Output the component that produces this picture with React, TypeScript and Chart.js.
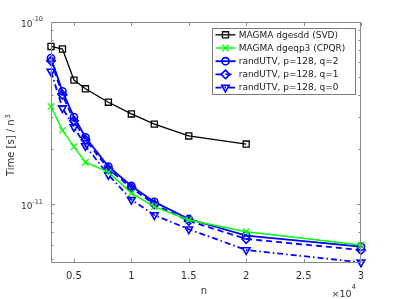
import React, { useEffect, useRef } from "react";
import { Chart, registerables } from "chart.js";
import { drawPoint } from "chart.js/helpers";

Chart.register(...registerables);

const nValues = [3000, 4000, 5000, 6000, 8000, 10000, 12000, 15000, 20000, 30000];
const svdTimes = [7.34e-11, 7.11e-11, 4.8e-11, 4.3e-11, 3.63e-11, 3.13e-11, 2.75e-11, 2.37e-11, 2.14e-11];
const cpqrTimes = [3.44e-11, 2.54e-11, 2.07e-11, 1.7e-11, 1.5e-11, 1.15e-11, 9.7e-12, 8.2e-12, 7.07e-12, 5.97e-12];
const utvQ2Times = [6.34e-11, 4.16e-11, 3.01e-11, 2.33e-11, 1.61e-11, 1.26e-11, 1.03e-11, 8.3e-12, 6.72e-12, 5.85e-12];
const utvQ1Times = [6.12e-11, 3.99e-11, 2.87e-11, 2.26e-11, 1.56e-11, 1.23e-11, 1.0e-11, 8.1e-12, 6.45e-12, 5.61e-12];
const utvQ0Times = [5.35e-11, 3.37e-11, 2.65e-11, 2.09e-11, 1.45e-11, 1.06e-11, 8.73e-12, 7.29e-12, 5.61e-12, 4.8e-12];

const seriesLabels = [
  "MAGMA dgesdd (SVD)",
  "MAGMA dgeqp3 (CPQR)",
  "randUTV, p=128, q=2",
  "randUTV, p=128, q=1",
  "randUTV, p=128, q=0",
];

const xTickValues = [5000, 10000, 15000, 20000, 25000, 30000];
const xTickLabels = ["0.5", "1", "1.5", "2", "2.5", "3"];
const yMajorTicks = [1e-11, 1e-10];
const yMinorTicks = [5e-12, 6e-12, 7e-12, 8e-12, 9e-12, 2e-11, 3e-11, 4e-11, 5e-11, 6e-11, 7e-11, 8e-11, 9e-11];
const xAxisTitle = "n";
const xExponentBase = "\u00d710";
const xExponent = "4";
const yAxisTitle = "Time [s] / n";
const yAxisTitleSup = "3";

const FONT = "'DejaVu Sans', sans-serif";
const AXIS_COLOR = "#8a8a8a";
const TEXT_COLOR = "#303030";

const toPoints = (ys: number[]) => ys.map((y, i) => ({ x: nValues[i], y }));

const styles = [
  { color: "#000000", width: 1.3, dash: [] as number[], pointStyle: "rect", radius: 4.3, rotation: 0, pbw: 1.3 },
  { color: "#00ff00", width: 1.5, dash: [] as number[], pointStyle: "crossRot", radius: 4.5, rotation: 0, pbw: 1.3 },
  { color: "#0000ff", width: 1.8, dash: [] as number[], pointStyle: "circle", radius: 3.6, rotation: 0, pbw: 1.6 },
  { color: "#0000ff", width: 1.8, dash: [6, 4], pointStyle: "rectRot", radius: 4.3, rotation: 0, pbw: 1.6 },
  { color: "#0000ff", width: 1.8, dash: [6, 3, 1.5, 3], pointStyle: "triangle", radius: 4.4, rotation: 180, pbw: 1.6 },
];

const seriesData = [svdTimes, cpqrTimes, utvQ2Times, utvQ1Times, utvQ0Times];

const decorPlugin = {
  id: "decor",
  afterDraw(chart: any) {
    const { ctx, chartArea: a, scales } = chart;
    const x = scales.x;
    const y = scales.y;
    ctx.save();

    // box
    ctx.strokeStyle = AXIS_COLOR;
    ctx.lineWidth = 1;
    const L = Math.round(a.left) + 0.5;
    const R = Math.round(a.right) - 0.5;
    const T = Math.round(a.top) + 0.5;
    const B = Math.round(a.bottom) - 0.5;
    ctx.beginPath();
    ctx.rect(L, T, R - L, B - T);
    ctx.stroke();

    // x ticks (inward, top and bottom)
    ctx.beginPath();
    xTickValues.forEach((v) => {
      const px = Math.round(x.getPixelForValue(v)) + 0.5;
      ctx.moveTo(px, B);
      ctx.lineTo(px, B - 3.5);
      ctx.moveTo(px, T);
      ctx.lineTo(px, T + 3.5);
    });
    // y ticks
    yMajorTicks.forEach((v) => {
      const py = Math.round(y.getPixelForValue(v)) + 0.5;
      ctx.moveTo(L, py);
      ctx.lineTo(L + 3.5, py);
      ctx.moveTo(R, py);
      ctx.lineTo(R - 3.5, py);
    });
    yMinorTicks.forEach((v) => {
      const py = Math.round(y.getPixelForValue(v)) + 0.5;
      ctx.moveTo(L, py);
      ctx.lineTo(L + 2, py);
      ctx.moveTo(R, py);
      ctx.lineTo(R - 2, py);
    });
    ctx.stroke();

    ctx.fillStyle = TEXT_COLOR;
    // x tick labels
    ctx.font = `10px ${FONT}`;
    ctx.textAlign = "center";
    ctx.textBaseline = "alphabetic";
    xTickValues.forEach((v, i) => {
      ctx.fillText(xTickLabels[i], x.getPixelForValue(v), 278.5);
    });

    // x exponent
    ctx.font = `9.5px ${FONT}`;
    const wBase = ctx.measureText(xExponentBase).width;
    ctx.font = `7px ${FONT}`;
    const wExp = ctx.measureText(xExponent).width;
    const exRight = a.right - 5;
    ctx.textAlign = "left";
    ctx.font = `9.5px ${FONT}`;
    ctx.fillText(xExponentBase, exRight - wExp - wBase, 296.5);
    ctx.font = `7px ${FONT}`;
    ctx.fillText(xExponent, exRight - wExp, 288.5);

    // y tick labels with superscript
    yMajorTicks.forEach((v) => {
      const py = y.getPixelForValue(v);
      const e = String(Math.round(Math.log10(v)));
      ctx.font = `6.5px ${FONT}`;
      const ws = ctx.measureText(e).width;
      const right = a.left - 8;
      ctx.textBaseline = "middle";
      ctx.textAlign = "right";
      ctx.fillText(e, right, py - 2.2);
      ctx.font = `9px ${FONT}`;
      ctx.fillText("10", right - ws, py + 2.8);
    });

    // x title
    ctx.font = `10px ${FONT}`;
    ctx.textAlign = "center";
    ctx.textBaseline = "alphabetic";
    ctx.fillText(xAxisTitle, (a.left + a.right) / 2 - 2, 293.5);

    // y title (rotated)
    ctx.save();
    const cy = (a.top + a.bottom) / 2 + 3;
    ctx.translate(14, cy);
    ctx.rotate(-Math.PI / 2);
    ctx.font = `10px ${FONT}`;
    const wt = ctx.measureText(yAxisTitle).width;
    ctx.font = `7px ${FONT}`;
    const wsup = ctx.measureText(yAxisTitleSup).width;
    const start = -(wt + wsup) / 2;
    ctx.textAlign = "left";
    ctx.font = `10px ${FONT}`;
    ctx.fillText(yAxisTitle, start, 0);
    ctx.font = `7px ${FONT}`;
    ctx.fillText(yAxisTitleSup, start + wt + 0.5, -4.5);
    ctx.restore();

    // legend
    const lx0 = 212.5, ly0 = 28.5, lx1 = 355.5, ly1 = 94.5;
    ctx.fillStyle = "#ffffff";
    ctx.fillRect(lx0, ly0, lx1 - lx0, ly1 - ly0);
    ctx.strokeStyle = "#7a7a7a";
    ctx.lineWidth = 1;
    ctx.strokeRect(lx0, ly0, lx1 - lx0, ly1 - ly0);
    seriesLabels.forEach((label, i) => {
      const s = styles[i];
      const yy = 34.8 + i * 13.2;
      ctx.strokeStyle = s.color;
      ctx.lineWidth = s.width;
      ctx.setLineDash(s.dash);
      ctx.beginPath();
      ctx.moveTo(215.5, yy);
      ctx.lineTo(235.5, yy);
      ctx.stroke();
      ctx.setLineDash([]);
      ctx.lineWidth = s.pbw;
      ctx.fillStyle = "rgba(0,0,0,0)";
      drawPoint(ctx, { pointStyle: s.pointStyle, radius: s.radius, rotation: s.rotation, borderWidth: s.pbw } as any, 225.5, yy);
      ctx.fillStyle = "#1a1a1a";
      ctx.font = `9px ${FONT}`;
      ctx.textAlign = "left";
      ctx.textBaseline = "middle";
      ctx.fillText(label, 238.7, yy + 0.5);
    });

    ctx.restore();
  },
};

export default function App() {
  const canvasRef = useRef<HTMLCanvasElement | null>(null);

  useEffect(() => {
    const canvas = canvasRef.current;
    if (!canvas) return;
    const chart = new Chart(canvas, {
      type: "line",
      data: {
        datasets: seriesData.map((d, i) => {
          const s = styles[i];
          return {
            label: seriesLabels[i],
            data: toPoints(d),
            borderColor: s.color,
            borderWidth: s.width,
            borderDash: s.dash,
            pointStyle: s.pointStyle as any,
            pointRadius: s.radius,
            pointRotation: s.rotation,
            pointBorderWidth: s.pbw,
            pointBorderColor: s.color,
            pointBackgroundColor: "rgba(0,0,0,0)",
            tension: 0,
            fill: false,
            clip: false as any,
          };
        }),
      },
      options: {
        animation: false,
        responsive: false,
        maintainAspectRatio: false,
        devicePixelRatio: 1,
        layout: { padding: { top: 22, right: 38, left: 0, bottom: 0 } },
        plugins: {
          legend: { display: false },
          tooltip: { enabled: false },
        },
        scales: {
          x: {
            type: "linear",
            min: 3000,
            max: 30000,
            grid: { display: false, drawTicks: false },
            border: { display: false },
            ticks: { display: false },
            afterBuildTicks: (s: any) => {
              s.ticks = xTickValues.map((v) => ({ value: v }));
            },
            afterFit: (s: any) => {
              s.height = 36;
            },
          },
          y: {
            type: "logarithmic",
            min: 4.76e-12,
            max: 1e-10,
            grid: { display: false, drawTicks: false },
            border: { display: false },
            ticks: { display: false },
            afterBuildTicks: (s: any) => {
              s.ticks = yMajorTicks.map((v) => ({ value: v }));
            },
            afterFit: (s: any) => {
              s.width = 51;
            },
          },
        },
      },
      plugins: [decorPlugin],
    });
    return () => chart.destroy();
  }, []);

  return (
    <div style={{ position: "fixed", left: 0, top: 0, width: 399, height: 299, background: "#ffffff" }}>
      <canvas ref={canvasRef} width={399} height={299} style={{ display: "block" }} />
    </div>
  );
}
